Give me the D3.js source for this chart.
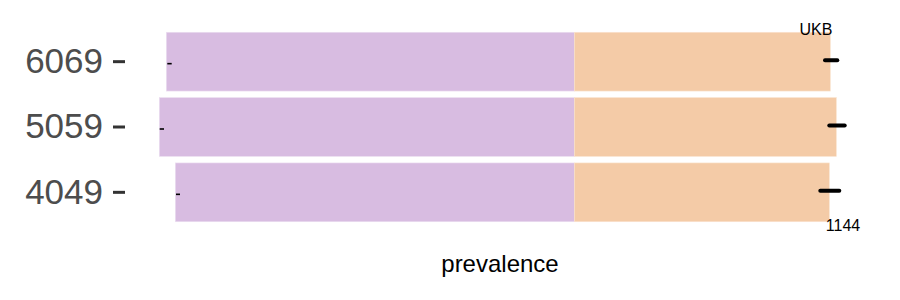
<!DOCTYPE html>
<html lang="en">
<head>
<meta charset="UTF-8">
<title>prevalence</title>
<script src="https://cdn.jsdelivr.net/npm/d3@7"></script>
<style>
  body { margin: 0; background: #fff; }
  text { font-family: "Liberation Sans", Arial, sans-serif; }
</style>
</head>
<body>
<svg width="900" height="300"></svg>
<script>
// data
var ages = ["6069", "5059", "4049"];
var leftPart = [0.408, 0.415, 0.399];    // purple, extends left of split
var rightPart = [0.256, 0.262, 0.255];   // orange, extends right of split
var leftErrLo = [-0.407, -0.4146, -0.3983];
var leftErrHi = [-0.4026, -0.4103, -0.3943];
var rightErrLo = [0.2507, 0.255, 0.246];
var rightErrHi = [0.263, 0.2704, 0.265];

var rows = ages.map(function(a, i) {
  return {age: a, left: leftPart[i], right: rightPart[i],
          llo: leftErrLo[i], lhi: leftErrHi[i], rlo: rightErrLo[i], rhi: rightErrHi[i]};
});

var svg = d3.select("svg");

var x = d3.scaleLinear().domain([-0.45, 0.3]).range([124.3, 874.3]);
var y = d3.scaleBand().domain(ages).range([29, 225]).paddingInner(0.1).paddingOuter(0.05);

// purple
svg.selectAll("rect.l").data(rows).join("rect")
  .attr("class", "l")
  .attr("x", function(d){ return x(-d.left); })
  .attr("width", function(d){ return x(0) - x(-d.left); })
  .attr("y", function(d){ return y(d.age); })
  .attr("height", y.bandwidth())
  .attr("fill", "#d8bce1")
  .attr("stroke", "#ecdff0").attr("stroke-width", 0.6);

// orange
svg.selectAll("rect.r").data(rows).join("rect")
  .attr("class", "r")
  .attr("x", x(0))
  .attr("width", function(d){ return x(d.right) - x(0); })
  .attr("y", function(d){ return y(d.age); })
  .attr("height", y.bandwidth())
  .attr("fill", "#f4cba7")
  .attr("stroke", "#f9e3cf").attr("stroke-width", 0.6);

// error marks
svg.selectAll("line.le").data(rows).join("line")
  .attr("class", "le")
  .attr("x1", function(d){ return x(d.llo); })
  .attr("x2", function(d){ return x(d.lhi); })
  .attr("y1", function(d){ return y(d.age) + y.bandwidth() / 2 + 2; })
  .attr("y2", function(d){ return y(d.age) + y.bandwidth() / 2 + 2; })
  .attr("stroke", "#000").attr("stroke-width", 1.6);

svg.selectAll("line.re").data(rows).join("line")
  .attr("class", "re")
  .attr("x1", function(d){ return x(d.rlo); })
  .attr("x2", function(d){ return x(d.rhi); })
  .attr("y1", function(d){ return y(d.age) + y.bandwidth() / 2 - 1.5; })
  .attr("y2", function(d){ return y(d.age) + y.bandwidth() / 2 - 1.5; })
  .attr("stroke", "#000").attr("stroke-width", 4).attr("stroke-linecap", "round");

// y axis
var yAxis = svg.append("g")
  .attr("transform", "translate(125,0)")
  .call(d3.axisLeft(y).tickSize(12).tickPadding(10));
yAxis.select(".domain").remove();
yAxis.selectAll(".tick line").attr("stroke", "#333").attr("stroke-width", 3);
yAxis.selectAll(".tick text")
  .attr("fill", "#4d4d4d")
  .style("font-size", "35px")
  .style("font-family", "'Liberation Sans', Arial, sans-serif");

// annotations
svg.append("text").attr("x", 816).attr("y", 35).attr("text-anchor", "middle")
  .style("font-size", "16px").text("UKB");
svg.append("text").attr("x", 843).attr("y", 231).attr("text-anchor", "middle")
  .style("font-size", "16px").text("1144");

svg.append("text").attr("x", 500).attr("y", 272).attr("text-anchor", "middle")
  .style("font-size", "24px").text("prevalence");
</script>
</body>
</html>
